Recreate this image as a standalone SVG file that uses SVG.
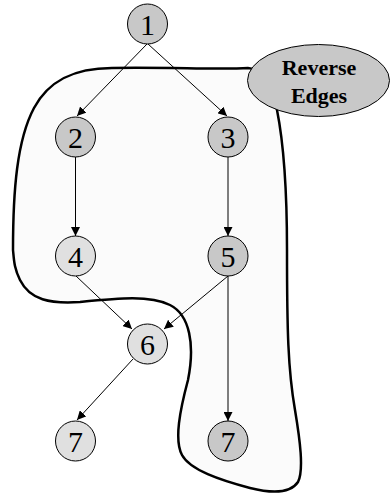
<svg xmlns="http://www.w3.org/2000/svg" width="391" height="495" viewBox="0 0 391 495">
<defs>
<style>
.node circle{stroke:#000;stroke-width:1}
.dark circle{fill:#c8c8c8}
.light circle{fill:#e0e0e0}
.node text{font-family:"Liberation Serif","Times New Roman",serif;font-size:30px;text-anchor:middle;fill:#000}
.edge{stroke:#000;stroke-width:1;fill:none;marker-end:url(#arr)}
.lbl{font-family:"Liberation Serif","Times New Roman",serif;font-size:22px;font-weight:bold;text-anchor:middle;fill:#000}
</style>
<marker id="arr" viewBox="0 0 10 10" refX="10" refY="5" markerWidth="9" markerHeight="9" markerUnits="userSpaceOnUse" orient="auto">
<path d="M0,0 L10,5 L0,10 Z" fill="#000"/>
</marker>
</defs>
<rect width="391" height="495" fill="#fff"/>
<g id="region">
<path d="M 13,250 C 13,190 17,140 34,108 C 48,82 72,68 112,68 C 170,67 220,70 248,68 C 262,68 272,90 277,110 C 285,150 287,200 287,250 C 287,330 288,370 295,410 C 300,440 304,470 298,482 C 290,494 270,493 250,488 C 220,480 190,470 182,455 C 174,440 180,410 188,380 C 195,345 190,315 170,305 C 150,295 120,298 80,302 C 50,304 30,300 20,280 C 14,268 14,260 13,250 Z" fill="#fbfbfb" stroke="#000" stroke-width="2.5"/>
</g>
<g id="connectors">
<line class="edge" x1="147" y1="44" x2="77" y2="116"/>
<line class="edge" x1="148" y1="44" x2="227" y2="116"/>
<line class="edge" x1="75.5" y1="157" x2="75.5" y2="236"/>
<line class="edge" x1="228" y1="157" x2="228" y2="236"/>
<line class="edge" x1="76" y1="276" x2="132" y2="329"/>
<line class="edge" x1="228" y1="276" x2="164" y2="329"/>
<line class="edge" x1="228" y1="276" x2="228" y2="421"/>
<line class="edge" x1="133" y1="359" x2="77" y2="420"/>
</g>
<g id="n1" class="node dark"><circle cx="147.5" cy="24" r="20"/><text x="147.5" y="35">1</text></g>
<g id="n2" class="node dark"><circle cx="75.5" cy="137" r="20"/><text x="75.5" y="148">2</text></g>
<g id="n3" class="node dark"><circle cx="228" cy="137" r="20"/><text x="228" y="148">3</text></g>
<g id="n4" class="node light"><circle cx="75.5" cy="256" r="20"/><text x="75.5" y="267">4</text></g>
<g id="n5" class="node dark"><circle cx="228" cy="256" r="20"/><text x="228" y="267">5</text></g>
<g id="n6" class="node light"><circle cx="147.5" cy="344" r="20"/><text x="147.5" y="355">6</text></g>
<g id="n7a" class="node light"><circle cx="75.5" cy="441" r="20"/><text x="75.5" y="452">7</text></g>
<g id="n7b" class="node dark"><circle cx="228" cy="441" r="20"/><text x="228" y="452">7</text></g>
<g id="label">
<ellipse cx="318.5" cy="80.5" rx="71" ry="36" fill="#c8c8c8" stroke="#000" stroke-width="1"/>
<text class="lbl" x="319" y="75">Reverse</text>
<text class="lbl" x="319" y="103">Edges</text>
</g>
</svg>
